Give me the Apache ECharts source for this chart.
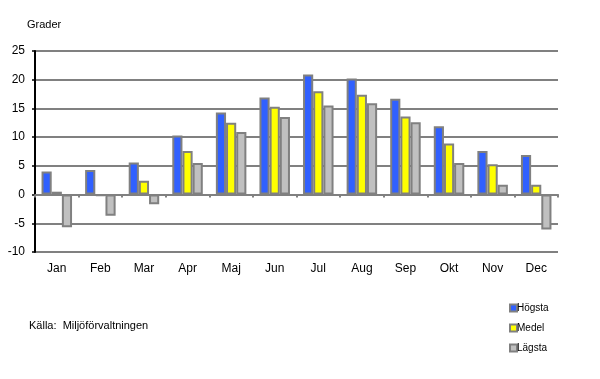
<!DOCTYPE html>
<html><head><meta charset="utf-8">
<script src="https://cdn.jsdelivr.net/npm/echarts@6/dist/echarts.min.js"></script>
<style>html,body{margin:0;padding:0;background:#fff}#c{width:600px;height:379px}</style>
</head><body><div id="c"></div>
<script>
const categories = ['Jan','Feb','Mar','Apr','Maj','Jun','Jul','Aug','Sep','Okt','Nov','Dec'];
const hogsta = [4.0, 4.3, 5.6, 10.3, 14.3, 16.9, 20.9, 20.2, 16.7, 11.9, 7.6, 6.9];
const medel  = [0.5, -0.2, 2.4, 7.6, 12.5, 15.3, 18.0, 17.4, 13.6, 8.9, 5.3, 1.7];
const lagsta = [-5.7, -3.7, -1.7, 5.5, 10.9, 13.5, 15.5, 15.9, 12.6, 5.5, 1.7, -6.1];
const seriesNames = ['Högsta','Medel','Lägsta'];
const colors = ['#3060ff','#ffff00','#c0c0c0'];
const yTicks = {min:-10, max:25, interval:5};

const chart = echarts.init(document.getElementById('c'), null, {renderer:'canvas'});
const font = 'Liberation Sans, Arial, sans-serif';
const mk = (name, data, i) => ({
  name, type:'bar', data, barGap:'0%', barCategoryGap:'30%',
  itemStyle:{color:colors[i], borderColor:'#808080', borderWidth:2},
  emphasis:{disabled:true}
});
chart.setOption({
  animation:false,
  grid:{left:35, right:42, top:51, bottom:127},
  graphic:[
    {type:'text', left:27, top:19, style:{text:'Grader', font:'11px '+font, fill:'#000'}},
    {type:'text', left:29, top:320, style:{text:'Källa:  Miljöförvaltningen', font:'11px '+font, fill:'#000'}}
  ],
  legend:{
    orient:'vertical', left:504, top:297, itemWidth:7, itemHeight:7, itemGap:8, icon:'rect',
    textStyle:{fontFamily:font, fontSize:10, color:'#000', padding:[0,0,0,-5], lineHeight:12},
    itemStyle:{borderColor:'#808080', borderWidth:2},
    data:seriesNames
  },
  xAxis:{
    type:'category', data:categories,
    axisLine:{onZero:true, lineStyle:{color:'#808080', width:2}},
    axisTick:{show:true, alignWithLabel:false, length:3, lineStyle:{color:'#808080', width:2}},
    axisLabel:{fontFamily:font, fontSize:12, color:'#000', margin:11}
  },
  yAxis:{
    type:'value', min:yTicks.min, max:yTicks.max, interval:yTicks.interval,
    axisLine:{show:true, lineStyle:{color:'#000', width:2}},
    axisTick:{show:true, length:3, lineStyle:{color:'#000', width:1.5}},
    axisLabel:{fontFamily:font, fontSize:12, color:'#000', margin:10},
    splitLine:{show:true, lineStyle:{color:'#808080', width:2}}
  },
  series:[mk(seriesNames[0], hogsta, 0), mk(seriesNames[1], medel, 1), mk(seriesNames[2], lagsta, 2)]
});
</script></body></html>
